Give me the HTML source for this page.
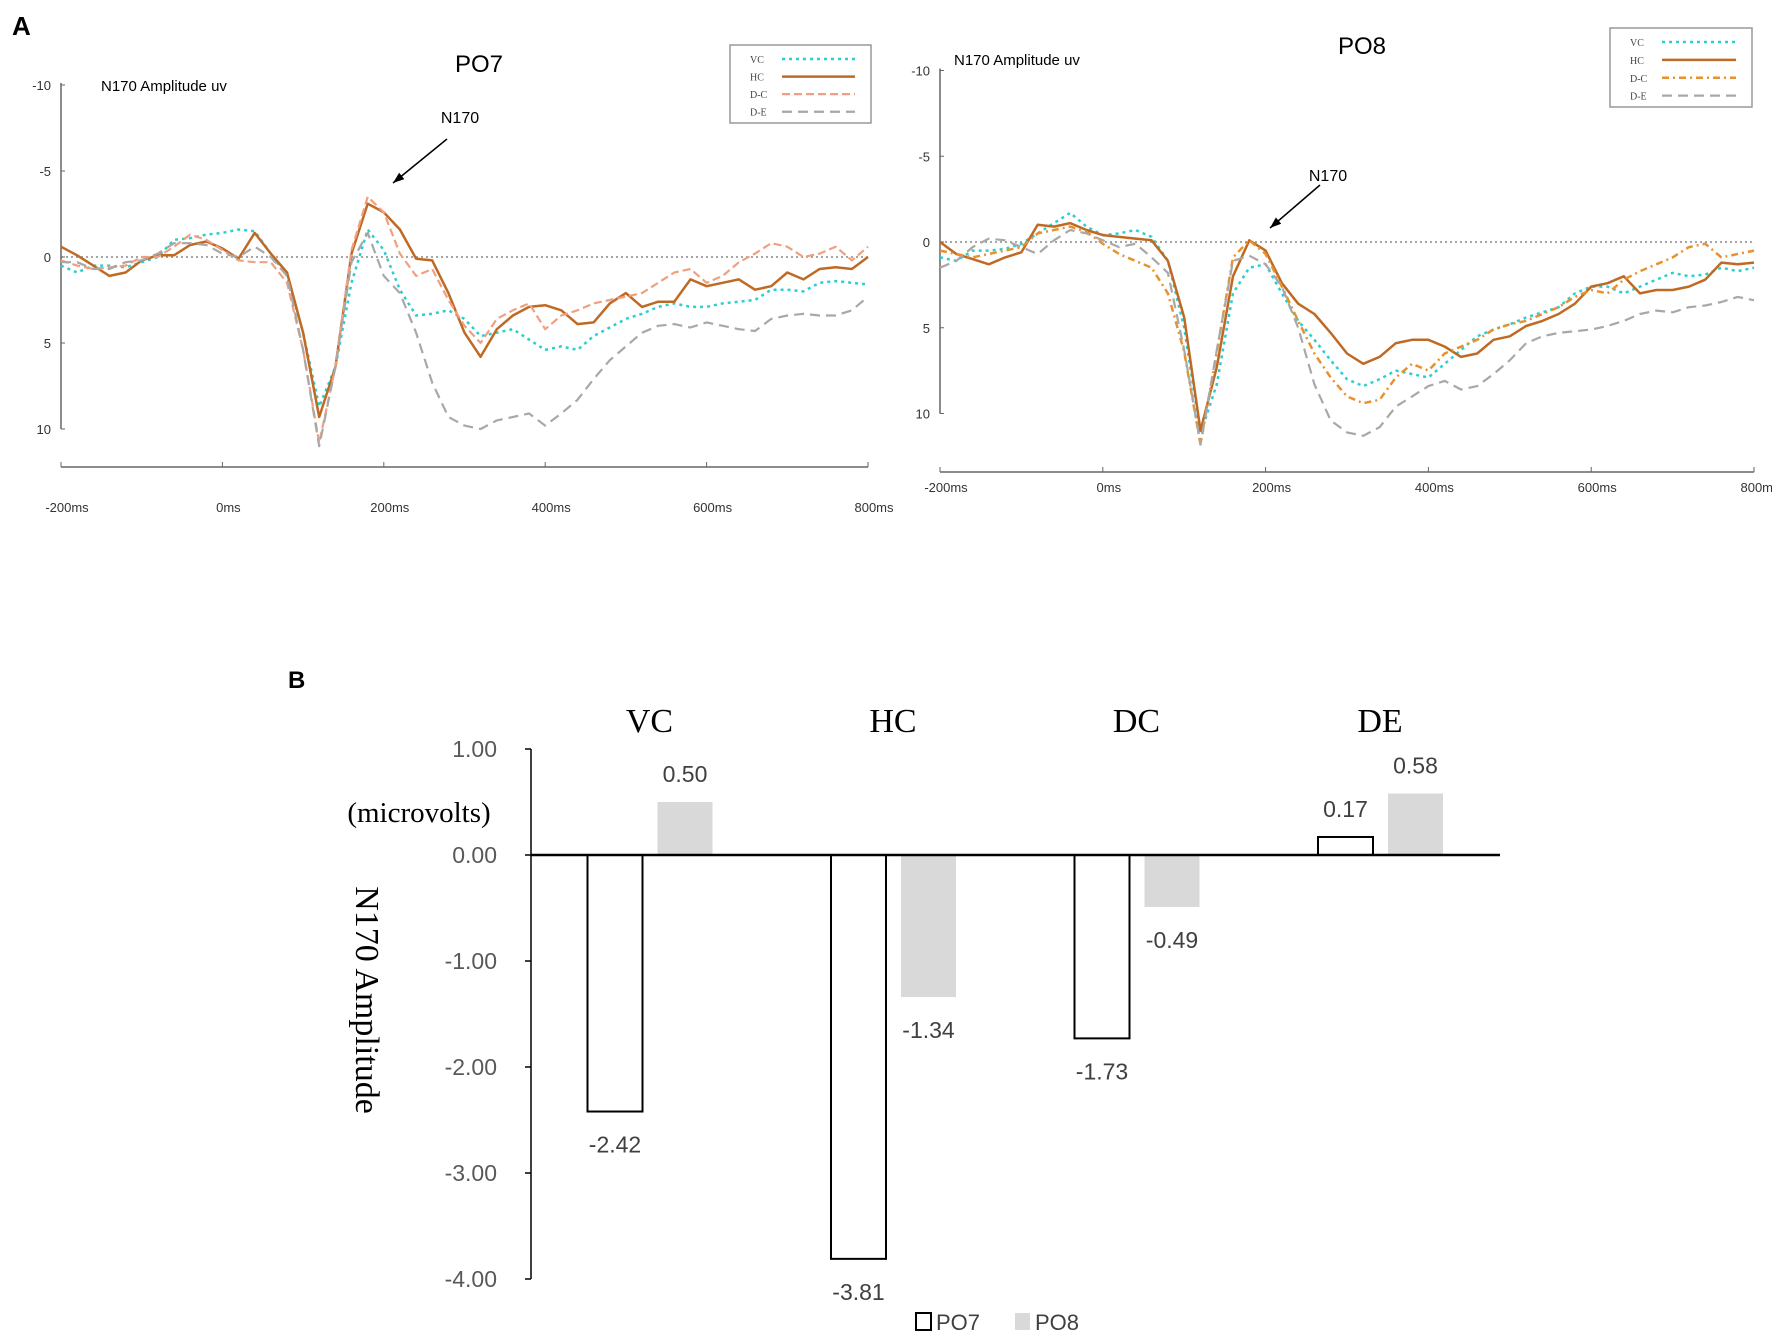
<!DOCTYPE html>
<html><head><meta charset="utf-8"><style>
body{margin:0;background:#fff}
svg{display:block;font-family:"Liberation Sans",sans-serif}
</style></head><body>
<svg id="fig" width="1772" height="1333" viewBox="0 0 1772 1333" xmlns="http://www.w3.org/2000/svg">
<rect width="1772" height="1333" fill="#fff"/>
<text x="12" y="35" font-size="26" font-weight="bold">A</text>
<text x="288" y="688" font-size="24" font-weight="bold">B</text>
<g id="erpL"></g>
<g id="erpR"></g>
<g id="bars"></g>
</svg>
<script>
const times=[-200,-180,-160,-140,-120,-100,-80,-60,-40,-20,0,20,40,60,80,100,120,140,160,180,200,220,240,260,280,300,320,340,360,380,400,420,440,460,480,500,520,540,560,580,600,620,640,660,680,700,720,740,760,780,800];
const po7HC=[-0.6,-0.1,0.5,1.1,0.9,0.2,-0.1,-0.1,-0.7,-0.9,-0.5,0.1,-1.4,-0.2,0.9,4.4,9.3,6.4,-0.2,-3.1,-2.6,-1.6,0.1,0.2,2.1,4.4,5.8,4.2,3.4,2.9,2.8,3.1,3.9,3.8,2.7,2.1,2.9,2.6,2.6,1.3,1.7,1.5,1.3,1.9,1.7,0.9,1.3,0.7,0.6,0.7,0.0];
const po7VC=[0.5,0.9,0.5,0.5,0.6,0.3,0,-1.0,-1.1,-1.3,-1.4,-1.6,-1.5,-0.2,1.1,4.4,8.7,6.4,1.5,-1.6,-0.4,1.9,3.4,3.3,3.1,3.6,4.6,4.4,4.2,4.8,5.4,5.2,5.4,4.6,4.1,3.6,3.3,2.9,2.7,2.9,2.9,2.7,2.6,2.5,1.9,1.9,2.0,1.5,1.4,1.5,1.6];
const po7DC=[0.2,0.5,0.7,0.6,0.5,0,0,-0.6,-1.3,-1.0,-0.4,0.2,0.3,0.3,1.5,5.4,10.8,6.4,-0.4,-3.5,-2.6,-0.2,1.1,0.7,2.5,4.0,5.0,3.6,3.1,2.7,4.2,3.4,3.1,2.7,2.5,2.3,2.1,1.5,0.9,0.7,1.5,1.1,0.3,-0.2,-0.8,-0.6,0,-0.2,-0.6,0.2,-0.6];
const po7DE=[0.3,0.3,0.7,0.7,0.3,0.2,-0.2,-0.8,-0.8,-0.7,-0.2,0,-0.6,0,1.1,5.4,11.0,6.4,0.3,-1.4,1.1,2.1,4.4,7.3,9.3,9.8,10.0,9.5,9.3,9.1,9.8,9.1,8.3,7.1,6.0,5.2,4.4,4.0,3.9,4.1,3.8,4.0,4.2,4.3,3.6,3.4,3.3,3.4,3.4,3.1,2.3];
const po8HC=[0,0.7,1.0,1.3,0.9,0.6,-1.0,-0.9,-1.1,-0.7,-0.4,-0.3,-0.2,-0.1,1.1,4.4,11.0,7.3,2.0,-0.1,0.5,2.4,3.6,4.2,5.3,6.5,7.1,6.7,5.9,5.7,5.7,6.1,6.7,6.5,5.7,5.5,4.9,4.6,4.2,3.6,2.6,2.4,2.0,3.0,2.8,2.8,2.6,2.2,1.2,1.3,1.2];
const po8VC=[0.9,1.1,0.5,0.5,0.4,0.1,-0.5,-1.1,-1.7,-0.9,-0.4,-0.5,-0.7,-0.3,1.1,5.0,11.2,8.3,3.0,1.5,1.3,3.0,4.6,5.7,6.9,8.0,8.4,8.0,7.5,7.7,7.9,7.1,6.3,5.5,5.1,4.8,4.4,4.1,3.8,3.0,2.6,2.6,3.0,2.6,2.2,1.8,2.0,1.9,1.5,1.7,1.5];
const po8DC=[0.5,0.7,0.9,0.7,0.5,0.3,-0.5,-0.7,-0.9,-0.6,0.1,0.7,1.1,1.5,3.0,6.4,11.8,6.4,0.9,-0.1,0.7,2.6,4.6,6.5,7.9,9.0,9.4,9.2,7.9,7.1,7.5,6.5,6.1,5.7,5.1,4.8,4.6,4.2,3.8,3.2,2.8,3.0,2.2,1.7,1.3,0.9,0.3,0.1,0.9,0.7,0.5];
const po8DE=[1.5,1.1,0.3,-0.2,-0.1,0.3,0.7,-0.1,-0.7,-0.5,-0.1,0.3,0.1,0.9,1.8,6.3,11.8,6.3,1.1,0.8,1.3,2.6,5.0,8.3,10.4,11.1,11.3,10.8,9.6,9.0,8.4,8.1,8.6,8.4,7.7,6.9,5.9,5.5,5.3,5.2,5.1,4.9,4.6,4.2,4.0,4.1,3.8,3.7,3.5,3.2,3.4];
const erpYTicks=[-10,-5,0,5,10];
const erpXTicks=[-200,0,200,400,600,800];
const legendNames=["VC","HC","D-C","D-E"];
const barCats=["VC","HC","DC","DE"];
const barPO7=[-2.42,-3.81,-1.73,0.17];
const barPO8=[0.50,-1.34,-0.49,0.58];
const barTicks=[1,0,-1,-2,-3,-4];

const NS="http://www.w3.org/2000/svg";
function mk(parent,tag,attrs,txt){const e=document.createElementNS(NS,tag);for(const k in attrs)e.setAttribute(k,attrs[k]);if(txt!==undefined)e.textContent=txt;parent.appendChild(e);return e;}

function erp(gid,cfg){
  const g=document.getElementById(gid);
  const X=t=>cfg.x0+(t+200)/1000*(cfg.x1-cfg.x0);
  const Y=v=>cfg.zero+v*cfg.unit;
  let e;
  e=mk(g,'line',{x1:cfg.x0,y1:Y(-10)-2,x2:cfg.x0,y2:Y(10),stroke:'#666','stroke-width':1.5});
  
  
  e=mk(g,'line',{x1:cfg.x0,y1:cfg.axisY,x2:cfg.x1,y2:cfg.axisY,stroke:'#666','stroke-width':1.5});
  
  
  e=mk(g,'line',{x1:cfg.x0,y1:Y(0),x2:cfg.x1,y2:Y(0),stroke:'#888','stroke-width':1.5,'stroke-dasharray':'2 3'});
  
  
  erpYTicks.forEach(v=>{
    mk(g,'line',{x1:cfg.x0,y1:Y(v),x2:cfg.x0+4,y2:Y(v),stroke:'#666','stroke-width':1});
    e=mk(g,'text',{x:cfg.x0-10,y:Y(v)+5,'font-size':13,'text-anchor':'end',fill:'#333'},String(v));
    
    
  });
  erpXTicks.forEach(t=>{
    mk(g,'line',{x1:X(t),y1:cfg.axisY,x2:X(t),y2:cfg.axisY-5,stroke:'#666','stroke-width':1});
    e=mk(g,'text',{x:X(t)+6,y:cfg.labY,'font-size':13,'text-anchor':'middle',fill:'#333'},t+'ms');
    
    
  });
  const series=cfg.series;
  series.forEach(s=>{
    let d='';s.data.forEach((v,i)=>{d+=(i?'L':'M')+X(times[i]).toFixed(1)+','+Y(v).toFixed(1);});
    e=mk(g,'path',{d:d,fill:'none',stroke:s.color,'stroke-width':s.w,'stroke-dasharray':s.dash,'stroke-linejoin':'round'});
    
    
  });
  e=mk(g,'text',{x:cfg.titleX,y:cfg.titleY,'font-size':24,'text-anchor':'middle'},cfg.title);
  
  
  e=mk(g,'text',{x:cfg.ylabX,y:cfg.ylabY,'font-size':15},'N170 Amplitude uv');
  
  
  e=mk(g,'text',{x:cfg.nX,y:cfg.nY,'font-size':16,'text-anchor':'middle'},'N170');
  
  
  const a=cfg.arrow;
  e=mk(g,'line',{x1:a[0],y1:a[1],x2:a[2],y2:a[3],stroke:'#000','stroke-width':1.5});
  
  
  const ang=Math.atan2(a[3]-a[1],a[2]-a[0]),L=12;
  mk(g,'polygon',{points:[a[2],a[3],a[2]-L*Math.cos(ang-0.35),a[3]-L*Math.sin(ang-0.35),a[2]-L*Math.cos(ang+0.35),a[3]-L*Math.sin(ang+0.35)].join(','),fill:'#000'});
  const lg=cfg.legend;
  e=mk(g,'rect',{x:lg[0],y:lg[1],width:lg[2],height:lg[3],fill:'#fff',stroke:'#999','stroke-width':1.5});
  
  
  series.forEach((s,i)=>{
    const yy=lg[1]+14+i*(lg[3]-20)/3.3;
    e=mk(g,'text',{x:lg[0]+20,y:yy+4,'font-size':10,'font-family':'Liberation Serif, serif',fill:'#444'},legendNames[i]);
    
    
    mk(g,'line',{x1:lg[0]+52,y1:yy,x2:lg[0]+lg[2]-16,y2:yy,stroke:s.color,'stroke-width':s.w,'stroke-dasharray':s.dash});
  });
}
const cy='#2ccfcf',br='#bf6a24',org='#e8922e',gr='#a8a8a8';
erp('erpL',{x0:61,x1:868,zero:257,unit:17.2,axisY:467,labY:512,title:'PO7',titleX:479,titleY:72,ylabX:101,ylabY:91,nX:460,nY:123,arrow:[447,139,393,183],legend:[730,45,141,78],
 series:[{name:'VC',data:po7VC,color:cy,w:2.5,dash:'3 4'},{name:'HC',data:po7HC,color:br,w:2.5,dash:'none'},{name:'DC',data:po7DC,color:'#f0a080',w:2.2,dash:'8 4'},{name:'DE',data:po7DE,color:gr,w:2.2,dash:'10 6'}]});
erp('erpR',{x0:940,x1:1754,zero:242,unit:17.15,axisY:472,labY:492,title:'PO8',titleX:1362,titleY:54,ylabX:954,ylabY:65,nX:1328,nY:181,arrow:[1320,185,1270,228],legend:[1610,28,142,79],
 series:[{name:'VC',data:po8VC,color:cy,w:2.5,dash:'3 4'},{name:'HC',data:po8HC,color:br,w:2.5,dash:'none'},{name:'DC',data:po8DC,color:org,w:2.5,dash:'7 4 2 4'},{name:'DE',data:po8DE,color:gr,w:2.2,dash:'10 6'}]});

(function(){
  const g=document.getElementById('bars');
  const ax=531,zero=855,unit=106,bw=55;
  const Y=v=>zero-v*unit;
  const gx=i=>587.5+i*243.5;
  let e;
  e=mk(g,'line',{x1:ax,y1:Y(1),x2:ax,y2:Y(-4),stroke:'#000','stroke-width':1.5});
  
  
  barTicks.forEach(v=>{
    mk(g,'line',{x1:ax-6,y1:Y(v),x2:ax,y2:Y(v),stroke:'#000','stroke-width':1.5});
    e=mk(g,'text',{x:497,y:Y(v)+8,'font-size':23,'text-anchor':'end',fill:'#595959'},v.toFixed(2));
    
    
  });
  barCats.forEach((c,i)=>{
    const x7=gx(i),x8=gx(i)+70;
    const v7=barPO7[i],v8=barPO8[i];
    e=mk(g,'rect',{x:x7,y:Math.min(Y(v7),zero),width:bw,height:Math.abs(v7*unit),fill:'#fff',stroke:'#000','stroke-width':2});
    
    
    e=mk(g,'rect',{x:x8,y:Math.min(Y(v8),zero),width:bw,height:Math.abs(v8*unit),fill:'#d9d9d9'});
    
    
    [[x7,v7],[x8,v8]].forEach(p=>{
      const ly=p[1]<0?Y(p[1])+41:Y(p[1])-20;
      e=mk(g,'text',{x:p[0]+bw/2,y:ly,'font-size':23,'text-anchor':'middle',fill:'#404040'},p[1].toFixed(2));
      
      
    });
    e=mk(g,'text',{x:x7+62,y:732,'font-size':34,'text-anchor':'middle','font-family':'Liberation Serif, serif'},c);
    
    
  });
  e=mk(g,'line',{x1:ax,y1:zero,x2:1500,y2:zero,stroke:'#000','stroke-width':2.5});
  
  
  e=mk(g,'text',{x:419,y:822,'font-size':29,'text-anchor':'middle','font-family':'Liberation Serif, serif'},'(microvolts)');
  
  
  e=mk(g,'text',{x:0,y:0,'font-size':34,'text-anchor':'middle','font-family':'Liberation Serif, serif',transform:'translate(356,1000) rotate(90)'},'N170 Amplitude');
  
  
  e=mk(g,'rect',{x:916,y:1313,width:15,height:17,fill:'#fff',stroke:'#000','stroke-width':2});
  
  
  e=mk(g,'text',{x:936,y:1330,'font-size':22,fill:'#404040'},'PO7');
  
  
  e=mk(g,'rect',{x:1015,y:1313,width:15,height:17,fill:'#d9d9d9'});
  
  
  e=mk(g,'text',{x:1035,y:1330,'font-size':22,fill:'#404040'},'PO8');
  
  
})();
</script>
</body></html>
